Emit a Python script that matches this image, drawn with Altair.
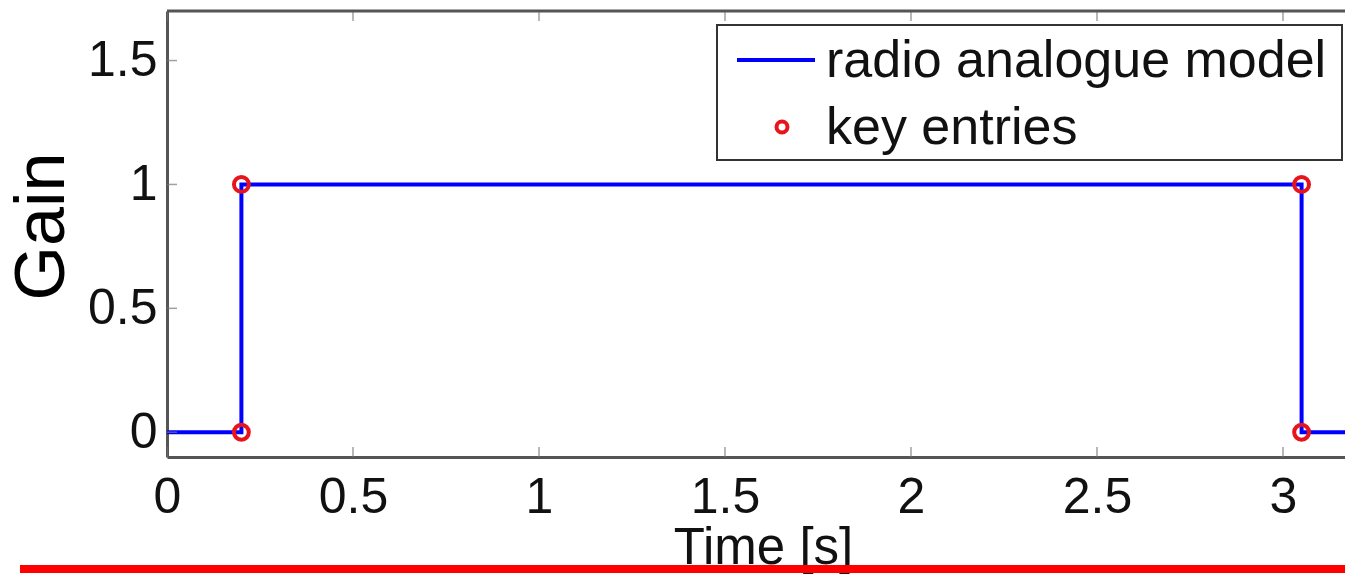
import altair as alt
import pandas as pd

# ---- data ----
time_s = [0.0, 0.2, 0.2, 3.05, 3.05, 3.2]
gain = [0, 0, 1, 1, 0, 0]
key_time = [0.2, 0.2, 3.05, 3.05]
key_gain = [0, 1, 1, 0]
x_ticks = [0, 0.5, 1, 1.5, 2, 2.5, 3]
y_ticks = [0, 0.5, 1, 1.5]
legend_labels = ["radio analogue model", "key entries"]
x_title = "Time [s]"
y_title = "Gain"

FONT = "Liberation Sans"
W, H = 1178, 446
X_DOM = [0, 3.1667]
Y_DOM = [-0.1, 1.7]
AX = "#555555"
TK = "#777777"

line_df = pd.DataFrame({"t": time_s, "g": gain})
key_df = pd.DataFrame({"t": key_time, "g": key_gain})
xt_df = pd.DataFrame({"t": x_ticks})
yt_df = pd.DataFrame({"g": y_ticks})
one = pd.DataFrame({"a": [0]})

xs = alt.Scale(domain=X_DOM, nice=False, zero=False)
ys = alt.Scale(domain=Y_DOM, nice=False, zero=False)

x_axis = alt.Axis(values=x_ticks, format="~g", grid=False, ticks=False,
                  domain=True, domainColor=AX, domainWidth=3,
                  labelFont=FONT, labelFontSize=50, labelColor="#111111",
                  labelPadding=15, labelFlush=False, labelOverlap=False,
                  title=x_title, titleFont=FONT, titleFontSize=51,
                  titleFontWeight="normal", titleColor="#111111",
                  titleX=596, titleY=66, titleBaseline="top", titleAlign="center")
y_axis = alt.Axis(values=y_ticks, format="~g", grid=False, ticks=False,
                  domain=True, domainColor=AX, domainWidth=3,
                  labelFont=FONT, labelFontSize=50, labelColor="#111111",
                  labelPadding=10, labelFlush=False, labelOverlap=False,
                  title=y_title, titleFont=FONT, titleFontSize=70,
                  titleFontWeight="normal", titleColor="#000000",
                  titleX=-125, titleY=215, titleAngle=270,
                  titleBaseline="middle", titleAlign="center")

line = alt.Chart(line_df).mark_line(color="#0000ff", strokeWidth=4, clip=True).encode(
    x=alt.X("t:Q", scale=xs, axis=x_axis),
    y=alt.Y("g:Q", scale=ys, axis=y_axis),
)

pts = alt.Chart(key_df).mark_point(shape="circle", filled=False, color="#e8141c",
                                   strokeWidth=4, size=220, opacity=1).encode(
    x=alt.X("t:Q", scale=xs), y=alt.Y("g:Q", scale=ys))

xtick_bot = alt.Chart(xt_df).mark_tick(orient="vertical", size=20, thickness=1.5,
                                       color=TK, clip=True).encode(
    x=alt.X("t:Q", scale=xs), y=alt.datum(Y_DOM[0]))
xtick_top = alt.Chart(xt_df).mark_tick(orient="vertical", size=20, thickness=1.5,
                                       color=TK, clip=True).encode(
    x=alt.X("t:Q", scale=xs), y=alt.datum(Y_DOM[1]))
ytick = alt.Chart(yt_df).mark_tick(orient="horizontal", size=20, thickness=1.5,
                                   color=TK, clip=True).encode(
    y=alt.Y("g:Q", scale=ys), x=alt.datum(X_DOM[0]))

top_border = alt.Chart(one).mark_rule(color=AX, strokeWidth=3).encode(
    y=alt.datum(Y_DOM[1]), x=alt.value(0), x2=alt.value(W))

# legend box
leg_box = alt.Chart(one).mark_rect(fill="white", stroke="#333333", strokeWidth=2).encode(
    x=alt.value(550), x2=alt.value(1175), y=alt.value(14), y2=alt.value(149))
leg_line = alt.Chart(one).mark_rule(color="#0000ff", strokeWidth=4).encode(
    x=alt.value(570), x2=alt.value(648), y=alt.value(49))
leg_pt = alt.Chart(one).mark_point(shape="circle", filled=False, color="#e8141c",
                                   strokeWidth=4, size=120, opacity=1).encode(
    x=alt.value(615), y=alt.value(116))
leg_t1 = alt.Chart(one).mark_text(text=legend_labels[0], font=FONT, fontSize=52,
                                  align="left", baseline="middle", color="#111111").encode(
    x=alt.value(659), y=alt.value(50))
leg_t2 = alt.Chart(one).mark_text(text=legend_labels[1], font=FONT, fontSize=52,
                                  align="left", baseline="middle", color="#111111").encode(
    x=alt.value(659), y=alt.value(117))

underline = alt.Chart(one).mark_rule(color="#ff0000", strokeWidth=8).encode(
    x=alt.value(-147), x2=alt.value(W), y=alt.value(558))

chart = alt.layer(line, xtick_bot, xtick_top, ytick, top_border, pts,
                  leg_box, leg_line, leg_pt, leg_t1, leg_t2, underline).properties(
    width=W, height=H,
    autosize=alt.AutoSizeParams(type="none"),
    padding={"left": 167, "top": 11, "right": 0, "bottom": 117},
    background="white",
).configure_view(stroke=None)

chart.save("out.html", embed_options={"renderer": "svg", "actions": False})
